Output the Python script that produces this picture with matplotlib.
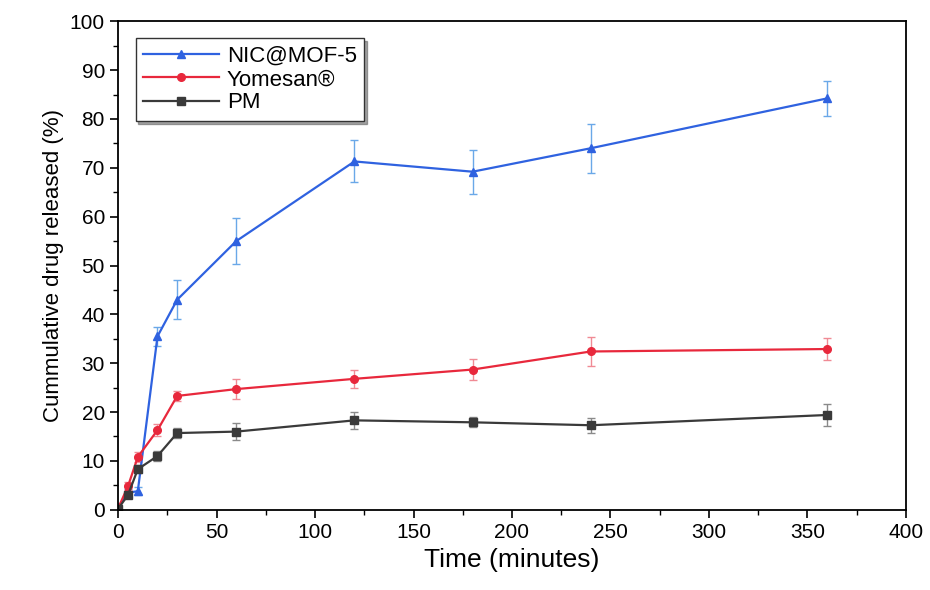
import matplotlib.pyplot as plt
from matplotlib.ticker import MultipleLocator

plt.rcParams['font.family'] = ['Liberation Sans', 'DejaVu Sans']

time_min = [0, 5, 10, 20, 30, 60, 120, 180, 240, 360]

nic_mof5 = [0.5, 3.5, 3.8, 35.5, 43.0, 55.0, 71.3, 69.2, 74.0, 84.2]
nic_err = [0.5, 0.8, 0.8, 2.0, 4.0, 4.7, 4.3, 4.5, 5.0, 3.5]

yomesan = [0.3, 4.8, 10.8, 16.3, 23.3, 24.7, 26.8, 28.7, 32.4, 32.9]
yom_err = [0.3, 0.8, 1.0, 1.2, 1.0, 2.0, 1.8, 2.2, 3.0, 2.2]

pm = [0.2, 3.0, 8.3, 11.0, 15.7, 16.0, 18.3, 17.9, 17.3, 19.4]
pm_err = [0.2, 0.6, 0.8, 1.0, 1.0, 1.8, 1.8, 1.0, 1.5, 2.2]

fig = plt.figure(figsize=(9.3, 5.9), dpi=100)
ax = fig.add_axes([0.127, 0.136, 0.847, 0.828])

series = [
    ("NIC@MOF-5", nic_mof5, nic_err, "#2f62e0", "#6aa8e8", "^"),
    ("Yomesan\u00ae", yomesan, yom_err, "#e8283c", "#f08a94", "o"),
    ("PM", pm, pm_err, "#3a3a3a", "#8a8a8a", "s"),
]

handles = []
for name, vals, err, col, ecol, mk in series:
    eb = ax.errorbar(time_min, vals, yerr=err, color=col, ecolor=ecol,
                     elinewidth=1, capsize=3, capthick=1, marker=mk,
                     markersize=5.5, linewidth=1.6, label=name)
    handles.append(eb.lines[0])

ax.set_xlim(0, 400)
ax.set_ylim(0, 100)
ax.xaxis.set_major_locator(MultipleLocator(50))
ax.xaxis.set_minor_locator(MultipleLocator(25))
ax.yaxis.set_major_locator(MultipleLocator(10))
ax.yaxis.set_minor_locator(MultipleLocator(5))
ax.tick_params(which='major', direction='out', length=6, width=1.2, labelsize=15)
ax.tick_params(which='minor', direction='out', length=3.5, width=1)
for sp in ax.spines.values():
    sp.set_linewidth(1.3)

ax.set_xlabel("Time (minutes)", fontsize=19)
ax.set_ylabel("Cummulative drug released (%)", fontsize=16)

leg = ax.legend(handles=handles, labels=[s[0] for s in series],
                loc='upper left', fontsize=16, shadow=True, fancybox=False,
                edgecolor='#333333', handlelength=3.4, handletextpad=0.35,
                borderpad=0.35, labelspacing=0.1,
                bbox_to_anchor=(0.008, 0.988))
leg.get_frame().set_linewidth(1.0)

fig.savefig("out.png", dpi=100)
